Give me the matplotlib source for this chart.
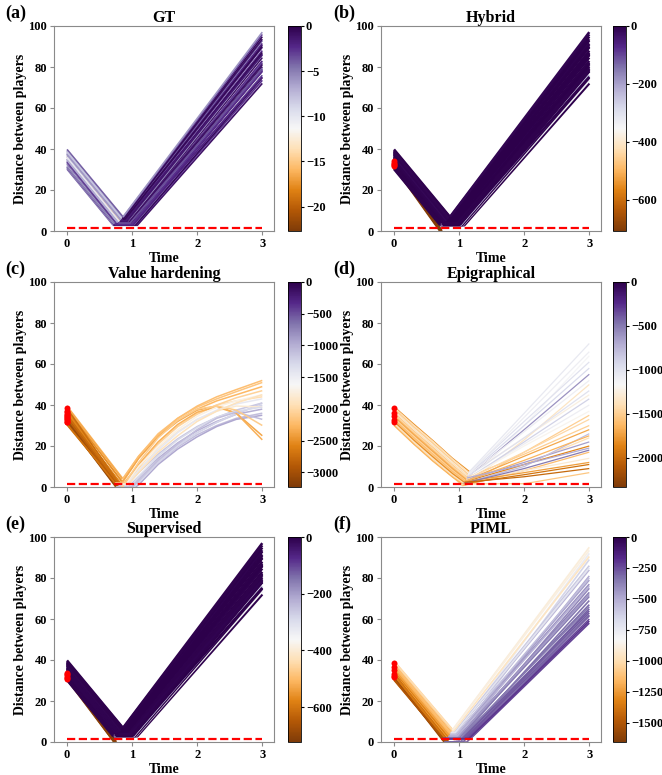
import matplotlib
matplotlib.use("Agg")
import matplotlib.pyplot as plt
from matplotlib.colors import Normalize
from matplotlib.cm import ScalarMappable

plt.rcParams['font.family'] = ['Liberation Serif', 'DejaVu Serif']
plt.rcParams['font.weight'] = 'bold'
plt.rcParams['axes.labelweight'] = 'bold'
plt.rcParams['axes.titleweight'] = 'bold'

# ---------------------------------------------------------------- data
T_END = 3.0
safety_dist = 1.5

# Shared V-shaped trajectory geometry (GT, Hybrid, Supervised)
band_start = [30.2, 30.7, 31.1, 31.6, 32.0, 32.3, 32.8, 33.2, 33.5, 34.0,
              34.3, 34.9, 35.2, 35.6, 36.1, 36.4, 36.9, 37.2, 37.7, 38.1,
              38.4, 38.9, 39.3, 39.8, 33.8, 35.9, 37.5, 31.3, 38.6, 34.6]
band_low_t = [0.71, 0.72, 0.73, 0.74, 0.75, 0.75, 0.76, 0.77, 0.77, 0.78,
              0.79, 0.80, 0.80, 0.81, 0.82, 0.82, 0.83, 0.83, 0.84, 0.84,
              0.85, 0.85, 0.86, 0.86, 0.77, 0.81, 0.84, 0.73, 0.85, 0.79]
band_low_d = [2.8, 3.0, 2.9, 3.1, 3.3, 3.0, 3.4, 3.6, 3.5, 3.8,
              4.0, 4.1, 4.3, 4.6, 4.7, 4.9, 5.2, 5.4, 5.6, 5.9,
              6.1, 6.3, 6.6, 6.9, 3.2, 4.2, 5.0, 3.4, 5.8, 3.9]
band_leave_t = [1.08, 1.06, 1.05, 1.03, 1.02, 1.00, 0.99, 0.98, 0.97, 0.96,
                0.95, 0.94, 0.93, 0.92, 0.91, 0.91, 0.90, 0.89, 0.88, 0.88,
                0.87, 0.87, 0.86, 0.86, 1.01, 0.95, 0.90, 1.00, 0.89, 0.97]
band_end = [72.0, 73.5, 74.8, 76.0, 77.9, 78.6, 80.1, 79.4, 81.7, 83.0,
            82.2, 84.6, 85.8, 86.5, 88.0, 87.1, 89.6, 90.8, 91.5, 92.9,
            93.6, 94.8, 95.9, 97.0, 75.2, 81.0, 86.0, 78.0, 90.0, 79.0]

# GT values along approach / separation
gt_val_down = [-4, -6, -3, -8, -5, -10, -4, -7, -3, -9, -5, -6, -4, -11, -7,
               -14, -5, -8, -4, -6, -9, -5, -7, -4, -3, -10, -6, -5, -8, -7]
gt_val_up = [-1.0, -2.5, -0.5, -3.5, -1.5, -2.0, -1.0, -4.5, -0.5, -2.0,
             -3.0, -1.0, -5.5, -1.5, -2.5, -0.5, -3.0, -1.0, -2.0, -4.0,
             -1.0, -0.5, -3.0, -6.0, -2.0, -1.0, -1.5, -2.5, -0.5, -3.5]

# Hybrid
hy_val_down = [-5, -8, -3, -12, -6, -15, -4, -9, -2, -11, -7, -5, -3, -18, -6,
               -20, -4, -10, -3, -7, -12, -5, -8, -4, -3, -14, -6, -5, -9, -7]
hy_val_up = [-2, -330, -1, -240, -3, -4, -2, -6, -1, -3, -5, -2, -8, -2, -4,
             -1, -5, -2, -3, -6, -2, -1, -4, -9, -3, -2, -2, -4, -1, -5]
hy_fail_start = [31.6, 32.2, 32.8, 33.4, 34.0]
hy_fail_t = [0.71, 0.72, 0.72, 0.73, 0.73]
hy_fail_val = [-700, -690, -705, -695, -700]

# Supervised
su_val_down = [-6, -4, -9, -3, -13, -5, -7, -2, -10, -6, -4, -16, -5, -8, -3,
               -11, -6, -4, -9, -2, -7, -12, -5, -3, -8, -6, -10, -4, -5, -7]
su_val_up = [-3, -350, -2, -260, -1, -5, -3, -2, -6, -1, -4, -3, -7, -1, -2,
             -5, -3, -1, -4, -2, -8, -1, -3, -5, -2, -4, -1, -3, -2, -6]
su_fail_start = [30.7, 31.3, 31.9, 32.5, 33.1, 33.7]
su_fail_t = [0.73, 0.73, 0.74, 0.74, 0.75, 0.75]
su_fail_val = [-710, -700, -715, -705, -700, -710]

# Value hardening
vh_start = [39.5, 38.6, 37.8, 37.0, 36.2, 35.5, 34.7, 34.0, 33.2, 32.5,
            31.8, 31.0, 30.3, 39.0, 36.6, 33.6, 31.6, 38.3, 35.0, 30.7]
vh_low_t = [0.86, 0.84, 0.84, 0.82, 0.82, 0.81, 0.80, 0.79, 0.78, 0.77,
            0.76, 0.75, 0.74, 0.85, 0.83, 0.79, 0.75, 0.83, 0.80, 0.74]
vh_low_d = [4.0, 2.5, 3.0, 0.8, 2.0, 1.2, 1.0, 0.5, 0.0, 0.0,
            0.0, 1.8, 2.0, 3.8, 1.0, 0.3, 0.0, 0.3, 1.2, 1.7]
vh_leave_t = [0.86, 0.86, 0.86, 0.88, 0.95, 0.98, 1.00, 1.02, 1.05, 1.03,
              0.92, 0.90, 0.88, 0.85, 0.90, 0.97, 1.00, 0.86, 0.93, 0.95]
vh_rise_t = [1.1, 1.4, 1.7, 2.0, 2.3, 2.6, 3.0]
vh_rise_d = [[15, 26, 33.5, 39, 43, 46.5, 51],
             [14, 25, 32.5, 38, 42, 45, 49],
             [14, 24.5, 32, 37.5, 39.5, 36, 25],
             [9, 21, 29.5, 36, 40, 42, 44],
             [7, 16, 23.5, 29.5, 34, 37.5, 41],
             [5, 14, 21.5, 27.5, 32, 35.5, 38],
             [4, 13, 20.5, 26.5, 31.5, 35.5, 41],
             [2.5, 12, 19.5, 25.5, 30, 33.5, 36],
             [1, 11, 18.5, 24.5, 29.5, 33, 35],
             [2, 12, 20, 26.5, 31.5, 36, 40],
             [8, 19, 27, 33, 37, 39.5, 39],
             [10, 21, 29.5, 35.5, 40, 43.5, 47],
             [11, 22, 30.5, 36.5, 39, 36, 23],
             [15, 25.5, 33.5, 39.5, 44, 47.5, 52],
             [10, 20, 28, 34.5, 39, 42, 45],
             [5, 15, 23, 29, 34, 37, 39],
             [3.5, 13, 21, 28, 33.5, 36.5, 33],
             [12, 24, 32.5, 38, 39.5, 37.5, 30],
             [8, 18, 26.5, 33, 37.5, 40.5, 43],
             [7, 17, 25, 32, 37, 41, 45]]
vh_val_down = [-2300, -2400, -2500, -2650, -2600, -2700, -2800, -2900, -3000, -3050,
               -3100, -2800, -2700, -2350, -2550, -2850, -3050, -2750, -2750, -2700]
vh_val_up = [-2150, -2250, -2350, -1950, -1150, -1000, -1200, -1100, -950, -1250,
             -1800, -2050, -2300, -2200, -1700, -1300, -1100, -2100, -1450, -1900]

# Epigraphical
ep_fall_t = [0.0, 0.3, 0.6, 0.9]
ep_fall_d = [[39.2, 30.8, 22.6, 14.0], [38.5, 29.5, 21.0, 11.0], [37.9, 29.2, 21.0, 12.5],
             [37.2, 28.5, 20.3, 11.8], [36.6, 27.9, 19.6, 11.0], [36.0, 27.0, 18.5, 8.5],
             [35.4, 26.6, 18.3, 9.8], [34.8, 25.8, 17.2, 7.5], [34.1, 25.3, 17.0, 8.6],
             [33.5, 24.6, 16.3, 8.0], [32.9, 23.8, 15.2, 5.8], [32.3, 23.3, 15.0, 6.8],
             [31.6, 22.5, 14.0, 5.0], [31.0, 22.0, 13.6, 5.6], [30.4, 21.3, 12.9, 5.0],
             [38.8, 30.2, 22.2, 13.6], [36.3, 27.5, 19.3, 10.8], [33.8, 25.0, 16.7, 8.3],
             [31.3, 22.3, 14.0, 5.9], [35.1, 26.3, 18.0, 9.5], [37.5, 28.8, 20.6, 12.1],
             [32.6, 23.6, 15.3, 7.1], [30.7, 21.6, 13.2, 5.3], [34.4, 25.7, 17.3, 8.9],
             [36.9, 28.2, 20.0, 11.4], [33.0, 24.2, 15.9, 7.6], [38.0, 29.4, 21.3, 12.8],
             [32.0, 23.0, 14.6, 6.5], [35.7, 26.9, 18.6, 10.1], [30.0, 21.0, 12.5, 4.8]]
ep_low_t = [1.16, 1.12, 1.14, 1.13, 1.13, 1.10, 1.12, 1.08, 1.11, 1.10,
            1.06, 1.09, 1.05, 1.07, 1.06, 1.15, 1.13, 1.11, 1.08, 1.12,
            1.14, 1.09, 1.06, 1.11, 1.13, 1.10, 1.14, 1.08, 1.12, 1.05]
ep_low_d = [7.5, 1.2, 6.0, 5.5, 5.0, 1.0, 4.2, 0.8, 3.5, 3.1,
            0.8, 2.5, 0.6, 1.9, 1.6, 7.0, 4.8, 3.3, 2.0, 4.0,
            5.8, 2.6, 1.7, 3.6, 5.2, 2.9, 6.2, 2.3, 4.4, 1.5]
ep_mid = [36, 30, 30, 24, 28, 23, 21, 17, 22, 15,
          11, 11, 8, 8, 6, 32, 16, 12, 10, 20,
          27, 7, 9, 17, 24, 13, 34, 5, 11, 1.6]
ep_end = [70, 64, 58, 45, 55, 50, 40, 35, 43, 28,
          24, 20, 17, 14, 11, 61, 30, 22, 26, 37,
          52, 12, 18, 33, 47, 25, 66, 9, 19, 7]
ep_val_down = [-1800, -1450, -1350, -1600, -1200, -1500, -1700, -1300, -1550, -1400,
               -1250, -1650, -1500, -1350, -1750, -1400, -1550, -1450, -1300, -1600,
               -1250, -1500, -1400, -1700, -1350, -1600, -1500, -1800, -1450, -1650]
ep_val_up = [-1050, -1150, -950, -1250, -600, -1350, -1100, -1500, -900, -1700,
             -1400, -1850, -1600, -1300, -1950, -1000, -1500, -650, -800, -1200,
             -1100, -1750, -500, -1450, -1000, -1650, -1100, -2000, -700, -1550]

# PIML
pi_start = [39.5, 39.0, 38.4, 37.9, 37.3, 36.8, 36.2, 35.7, 35.1, 34.5,
            34.0, 33.4, 32.9, 32.3, 31.8, 31.2, 30.7, 30.2, 38.7, 36.5,
            34.8, 33.0, 31.5, 37.6, 35.4, 32.6, 30.5, 39.2]
pi_low_t = [0.90, 0.86, 0.84, 0.88, 0.87, 0.83, 0.86, 0.85, 0.82, 0.83,
            0.82, 0.80, 0.80, 0.78, 0.78, 0.77, 0.76, 0.75, 0.89, 0.86,
            0.83, 0.80, 0.77, 0.87, 0.85, 0.79, 0.76, 0.90]
pi_low_d = [6.0, 2.5, 0.0, 4.8, 4.4, 0.0, 3.6, 3.2, 0.0, 2.4,
            2.0, 0.0, 1.8, 0.0, 1.6, 1.7, 1.6, 1.8, 5.4, 3.8,
            2.6, 1.9, 0.0, 4.6, 3.0, 1.6, 1.6, 5.8]
pi_leave_t = [0.90, 0.91, 0.92, 0.93, 0.94, 0.95, 0.96, 0.97, 0.98, 0.99,
              1.00, 1.02, 1.04, 1.06, 1.08, 1.10, 1.13, 1.18, 0.92, 0.96,
              0.99, 1.03, 1.12, 0.94, 0.97, 1.05, 1.15, 0.90]
pi_end = [95, 92, 89, 86, 84, 81, 79, 77, 75, 73,
          71, 69, 67, 65, 63, 61.5, 60, 58, 90.5, 80,
          72, 66, 62, 85, 76, 64, 59, 93.5]
pi_val_down = [-1050, -1150, -1450, -1200, -1120, -1500, -1180, -1250, -1480, -1300,
               -1220, -1520, -1280, -1540, -1350, -1380, -1420, -1450, -1080, -1160,
               -1330, -1400, -1560, -1130, -1230, -1360, -1500, -1000]
pi_val_up = [-900, -760, -650, -600, -540, -500, -460, -420, -400, -380,
             -360, -340, -320, -300, -290, -270, -250, -230, -960, -560,
             -440, -360, -310, -720, -520, -280, -200, -880]

# Colour scale limits and colourbar ticks per method
panel_titles = ["GT", "Hybrid", "Value hardening", "Epigraphical", "Supervised", "PIML"]
panel_tags = ["(a)", "(b)", "(c)", "(d)", "(e)", "(f)"]
value_min = [-22.7, -708, -3230, -2336, -723, -1654]
cbar_ticks = [[0, -5, -10, -15, -20],
              [0, -200, -400, -600],
              [0, -500, -1000, -1500, -2000, -2500, -3000],
              [0, -500, -1000, -1500, -2000],
              [0, -200, -400, -600],
              [0, -250, -500, -750, -1000, -1250, -1500]]
x_ticks = [0, 1, 2, 3]
y_ticks = [0, 20, 40, 60, 80, 100]


# ---------------------------------------------------------------- trajectories
# each path: (times, distances, value, kind) with kind 0 = colliding run,
# 1 = approach phase, 2 = separation phase
def band_paths(val_down, val_up, fail_start=(), fail_t=(), fail_val=()):
    paths = []
    for s, tc, v in zip(fail_start, fail_t, fail_val):
        paths.append(([0.0, tc], [s, 0.0], v, 0))
    for i in range(len(band_start)):
        paths.append(([0.0, band_low_t[i]], [band_start[i], band_low_d[i]],
                      val_down[i], 1))
    for i in range(len(band_start)):
        paths.append(([band_low_t[i], band_leave_t[i], T_END],
                      [band_low_d[i], band_low_d[i], band_end[i]], val_up[i], 2))
    return paths


def vh_paths():
    paths = []
    for i in range(len(vh_start)):
        paths.append(([0.0, vh_low_t[i]], [vh_start[i], vh_low_d[i]], vh_val_down[i], 1))
    for i in range(len(vh_start)):
        ts = [vh_low_t[i], vh_leave_t[i]] + vh_rise_t
        ds = [vh_low_d[i], vh_low_d[i]] + vh_rise_d[i]
        paths.append((ts, ds, vh_val_up[i], 2))
    return paths


def ep_paths():
    paths = []
    for i in range(len(ep_low_t)):
        paths.append((ep_fall_t + [ep_low_t[i]], ep_fall_d[i] + [ep_low_d[i]],
                      ep_val_down[i], 1))
    for i in range(len(ep_low_t)):
        paths.append(([ep_low_t[i], 2.0, T_END], [ep_low_d[i], ep_mid[i], ep_end[i]],
                      ep_val_up[i], 2))
    return paths


def pi_paths():
    paths = []
    for i in range(len(pi_start)):
        paths.append(([0.0, pi_low_t[i]], [pi_start[i], pi_low_d[i]], pi_val_down[i], 1))
    for i in range(len(pi_start)):
        paths.append(([pi_low_t[i], pi_leave_t[i], T_END],
                      [pi_low_d[i], pi_low_d[i], pi_end[i]], pi_val_up[i], 2))
    return paths


def unsafe_starts(k):
    """Initial distances of runs that come closer than the safety radius."""
    if k in (1, 4):
        return [ds[0] for ts, ds, v, kind in panel_paths[k] if kind == 0]
    if k == 2:
        return [s for s, d in zip(vh_start, vh_low_d) if d < safety_dist]
    if k == 3:
        return [ep_fall_d[i][0] for i in range(len(ep_low_d))
                if min(ep_low_d[i], ep_mid[i]) < safety_dist]
    if k == 5:
        return [s for s, d in zip(pi_start, pi_low_d) if d < safety_dist]
    return []


panel_paths = [
    band_paths(gt_val_down, gt_val_up),
    band_paths(hy_val_down, hy_val_up, hy_fail_start, hy_fail_t, hy_fail_val),
    vh_paths(),
    ep_paths(),
    band_paths(su_val_down, su_val_up, su_fail_start, su_fail_t, su_fail_val),
    pi_paths(),
]
panel_lw = [1.2, 1.8, 1.1, 0.9, 1.8, 1.2]

# ---------------------------------------------------------------- layout
W, H = 662, 775
col_left = [54, 381]
cb_left = [288, 613]
tag_left = [5, 333]
row_top = [26, 282, 537]
AX_W, AX_H, CB_W = 220, 205, 13


def rect(left, top, w, h):
    return [left / W, 1 - (top + h) / H, w / W, h / H]


fig = plt.figure(figsize=(W / 100, H / 100), dpi=100)
cmap = plt.get_cmap("PuOr")
spine_col = "#8a8a8a"

for k in range(6):
    r, c = divmod(k, 2)
    ax = fig.add_axes(rect(col_left[c], row_top[r], AX_W, AX_H))
    cax = fig.add_axes(rect(cb_left[c], row_top[r], CB_W, AX_H))
    norm = Normalize(vmin=value_min[k], vmax=0)

    for ts, ds, v, kind in panel_paths[k]:
        ax.plot(ts, ds, color=cmap(norm(v)), lw=panel_lw[k],
                zorder=1 + kind * 0.1, solid_capstyle="butt", solid_joinstyle="round")

    bad = unsafe_starts(k)
    if bad:
        ax.plot([0.0] * len(bad), bad, "o", color="red", ms=4.3, mew=0, zorder=5)

    ax.plot([0, T_END], [safety_dist, safety_dist], "--", color="red", lw=1.6, zorder=4)

    ax.set_xlim(-0.2, 3.18)
    ax.set_ylim(0, 100)
    ax.set_xticks(x_ticks)
    ax.set_yticks(y_ticks)
    ax.tick_params(labelsize=9, length=3, width=0.8, color=spine_col, pad=2)
    for sp in ax.spines.values():
        sp.set_color(spine_col)
        sp.set_linewidth(0.8)
    ax.set_xlabel("Time", fontsize=10, labelpad=1.5)
    ax.set_ylabel("Distance between players", fontsize=10, labelpad=1)
    ax.set_title(panel_titles[k], fontsize=11.5, pad=2.5)

    cb = fig.colorbar(ScalarMappable(norm=norm, cmap=cmap), cax=cax, ticks=cbar_ticks[k])
    cb.outline.set_linewidth(0.6)
    cb.ax.tick_params(labelsize=9, length=2.5, width=0.8, pad=1)

    fig.text(tag_left[c] / W, 1 - (row_top[r] - 13) / H, panel_tags[k], fontsize=13,
             fontweight="bold", va="center", ha="left")

fig.savefig("out.png", dpi=100)
